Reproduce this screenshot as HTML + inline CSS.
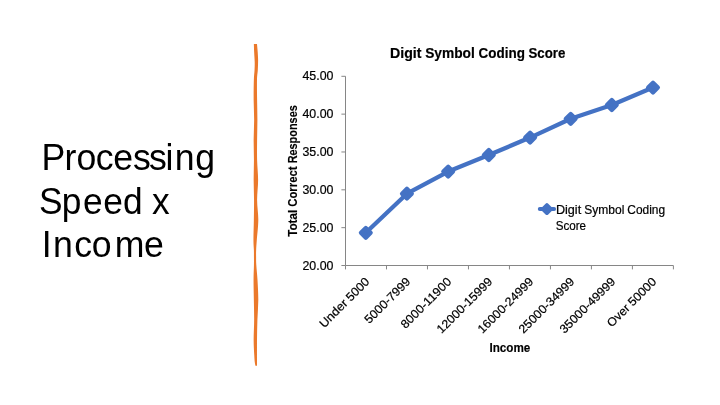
<!DOCTYPE html>
<html lang="en"><head><meta charset="utf-8"><title>Processing Speed x Income</title>
<style>
html,body{margin:0;padding:0;background:#fff;}
body{width:720px;height:405px;overflow:hidden;}
svg{display:block;}
text{font-family:"Liberation Sans",sans-serif;fill:#000;}
.t{font-size:36.2px;}
.s{font-size:12px;}
.b{font-weight:bold;}
.yl{font-size:12.3px;}
.s{stroke:#000;stroke-width:0.2px;}
.b{stroke:none;}
.ct{font-size:14.8px;font-weight:bold;stroke:#000;stroke-width:0.2px;}
.sb{font-size:12.7px;font-weight:bold;stroke:#000;stroke-width:0.15px;}
</style></head><body>
<svg width="720" height="405" viewBox="0 0 720 405">
<rect width="720" height="405" fill="#fff"/>

<text class="t" transform="scale(0.9850,1)" x="42.12 65.41 77.80 97.31 114.94 135.06 151.15 168.02 177.47 198.11" y="170">Processing</text>
<text class="t" transform="scale(0.9748,1)" x="40.10 63.33 85.16 105.99 126.16 146.29 155.84" y="213.75">Speed x</text>
<text class="t" transform="scale(0.9850,1)" x="42.48 53.82 75.28 93.23 116.44 146.21" y="257.5">Income</text>
<path d="M253.85,44.00 C253.90,45.33 254.01,49.00 254.15,52.00 C254.29,55.00 254.63,59.00 254.70,62.00 C254.77,65.00 254.69,67.00 254.55,70.00 C254.41,73.00 254.00,75.00 253.85,80.00 C253.70,85.00 253.60,93.33 253.65,100.00 C253.70,106.67 254.15,113.33 254.15,120.00 C254.15,126.67 253.68,133.33 253.65,140.00 C253.62,146.67 253.95,153.33 253.95,160.00 C253.95,166.67 253.63,173.33 253.65,180.00 C253.67,186.67 254.02,193.33 254.05,200.00 C254.08,206.67 253.95,213.33 253.85,220.00 C253.75,226.67 253.44,235.00 253.45,240.00 C253.46,245.00 253.82,247.17 253.90,250.00 C253.98,252.83 253.94,254.50 253.95,257.00 C253.96,259.50 254.02,261.17 253.95,265.00 C253.88,268.83 253.57,274.17 253.55,280.00 C253.53,285.83 253.75,293.33 253.85,300.00 C253.95,306.67 254.18,313.33 254.15,320.00 C254.12,326.67 253.63,334.17 253.65,340.00 C253.67,345.83 254.07,351.33 254.25,355.00 C254.43,358.67 254.55,360.20 254.75,362.00 C254.95,363.80 255.33,365.17 255.45,365.80 L257.00,365.80 C257.00,364.83 257.00,364.30 257.00,360.00 C257.00,355.70 256.93,346.67 257.00,340.00 C257.07,333.33 257.18,326.67 257.40,320.00 C257.62,313.33 258.28,306.67 258.30,300.00 C258.32,293.33 257.83,285.83 257.50,280.00 C257.17,274.17 256.53,268.83 256.30,265.00 C256.07,261.17 256.12,259.50 256.10,257.00 C256.07,254.50 256.03,252.83 256.15,250.00 C256.27,247.17 256.44,245.00 256.80,240.00 C257.16,235.00 258.25,226.67 258.30,220.00 C258.35,213.33 257.13,206.67 257.10,200.00 C257.07,193.33 258.10,186.67 258.10,180.00 C258.10,173.33 257.27,166.67 257.10,160.00 C256.93,153.33 257.05,146.67 257.10,140.00 C257.15,133.33 257.40,126.67 257.40,120.00 C257.40,113.33 257.17,106.67 257.10,100.00 C257.03,93.33 256.88,85.00 257.00,80.00 C257.12,75.00 257.62,73.33 257.80,70.00 C257.98,66.67 258.12,63.00 258.10,60.00 C258.08,57.00 257.88,54.67 257.70,52.00 C257.52,49.33 257.12,45.33 257.00,44.00Z" fill="#EB792B"/>
<text class="ct"  transform="translate(390.00,57.80)"><tspan x="0.00" textLength="31.48" lengthAdjust="spacingAndGlyphs">Digit</tspan> <tspan x="35.15" textLength="49.68" lengthAdjust="spacingAndGlyphs">Symbol</tspan> <tspan x="88.50" textLength="46.35" lengthAdjust="spacingAndGlyphs">Coding</tspan> <tspan x="138.51" textLength="36.82" lengthAdjust="spacingAndGlyphs">Score</tspan></text>
<g stroke="#868686" stroke-width="1" fill="none">
<path d="M345.5,76.3 V265.5 M345.5,265.5 H673.4"/>
<path d="M341.4,76.30 H345.5"/>
<path d="M341.4,114.14 H345.5"/>
<path d="M341.4,151.98 H345.5"/>
<path d="M341.4,189.82 H345.5"/>
<path d="M341.4,227.66 H345.5"/>
<path d="M341.4,265.50 H345.5"/>
<path d="M345.50,265.5 V269.4"/>
<path d="M386.49,265.5 V269.4"/>
<path d="M427.48,265.5 V269.4"/>
<path d="M468.46,265.5 V269.4"/>
<path d="M509.45,265.5 V269.4"/>
<path d="M550.44,265.5 V269.4"/>
<path d="M591.42,265.5 V269.4"/>
<path d="M632.41,265.5 V269.4"/>
<path d="M673.40,265.5 V269.4"/>
</g>
<text class="s yl"  transform="translate(333.40,80.45)"><tspan x="-30.99" textLength="30.99" lengthAdjust="spacingAndGlyphs">45.00</tspan></text>
<text class="s yl"  transform="translate(333.40,118.29)"><tspan x="-30.99" textLength="30.99" lengthAdjust="spacingAndGlyphs">40.00</tspan></text>
<text class="s yl"  transform="translate(333.40,156.13)"><tspan x="-30.99" textLength="30.99" lengthAdjust="spacingAndGlyphs">35.00</tspan></text>
<text class="s yl"  transform="translate(333.40,193.97)"><tspan x="-30.99" textLength="30.99" lengthAdjust="spacingAndGlyphs">30.00</tspan></text>
<text class="s yl"  transform="translate(333.40,231.81)"><tspan x="-30.99" textLength="30.99" lengthAdjust="spacingAndGlyphs">25.00</tspan></text>
<text class="s yl"  transform="translate(333.40,269.65)"><tspan x="-30.99" textLength="30.99" lengthAdjust="spacingAndGlyphs">20.00</tspan></text>
<text class="sb"  transform="translate(296.80,236.79) rotate(-90)"><tspan x="0.00" textLength="26.96" lengthAdjust="spacingAndGlyphs">Total</tspan> <tspan x="29.97" textLength="40.45" lengthAdjust="spacingAndGlyphs">Correct</tspan> <tspan x="73.43" textLength="58.15" lengthAdjust="spacingAndGlyphs">Responses</tspan></text>
<text class="sb"  transform="translate(489.44,352.00)"><tspan x="0.00" textLength="40.93" lengthAdjust="spacingAndGlyphs">Income</tspan></text>
<text class="s"  transform="translate(370.19,282.40) rotate(-45)"><tspan x="-65.15" textLength="34.51" lengthAdjust="spacingAndGlyphs">Under</tspan> <tspan x="-27.56" textLength="27.56" lengthAdjust="spacingAndGlyphs">5000</tspan></text>
<text class="s"  transform="translate(411.18,282.40) rotate(-45)"><tspan x="-59.28" textLength="59.28" lengthAdjust="spacingAndGlyphs">5000-7999</tspan></text>
<text class="s"  transform="translate(452.17,282.40) rotate(-45)"><tspan x="-66.17" textLength="66.17" lengthAdjust="spacingAndGlyphs">8000-11900</tspan></text>
<text class="s"  transform="translate(493.16,282.40) rotate(-45)"><tspan x="-73.06" textLength="73.06" lengthAdjust="spacingAndGlyphs">12000-15999</tspan></text>
<text class="s"  transform="translate(534.14,282.40) rotate(-45)"><tspan x="-73.06" textLength="73.06" lengthAdjust="spacingAndGlyphs">16000-24999</tspan></text>
<text class="s"  transform="translate(575.13,282.40) rotate(-45)"><tspan x="-73.06" textLength="73.06" lengthAdjust="spacingAndGlyphs">25000-34999</tspan></text>
<text class="s"  transform="translate(616.12,282.40) rotate(-45)"><tspan x="-73.06" textLength="73.06" lengthAdjust="spacingAndGlyphs">35000-49999</tspan></text>
<text class="s"  transform="translate(657.11,282.40) rotate(-45)"><tspan x="-64.04" textLength="26.51" lengthAdjust="spacingAndGlyphs">Over</tspan> <tspan x="-34.45" textLength="34.45" lengthAdjust="spacingAndGlyphs">50000</tspan></text>
<polyline points="365.8,232.8 406.9,193.7 448.2,171.6 488.8,155.0 530.1,137.6 570.7,118.8 611.8,105.0 653.0,87.6" fill="none" stroke="#4472C4" stroke-width="4.3" stroke-linejoin="round" stroke-linecap="round"/>
<path d="M365.80,227.90 L370.70,232.80 L365.80,237.70 L360.90,232.80Z" fill="#4472C4" stroke="#4472C4" stroke-width="4.2" stroke-linejoin="round"/>
<path d="M406.90,188.80 L411.80,193.70 L406.90,198.60 L402.00,193.70Z" fill="#4472C4" stroke="#4472C4" stroke-width="4.2" stroke-linejoin="round"/>
<path d="M448.20,166.70 L453.10,171.60 L448.20,176.50 L443.30,171.60Z" fill="#4472C4" stroke="#4472C4" stroke-width="4.2" stroke-linejoin="round"/>
<path d="M488.80,150.10 L493.70,155.00 L488.80,159.90 L483.90,155.00Z" fill="#4472C4" stroke="#4472C4" stroke-width="4.2" stroke-linejoin="round"/>
<path d="M530.10,132.70 L535.00,137.60 L530.10,142.50 L525.20,137.60Z" fill="#4472C4" stroke="#4472C4" stroke-width="4.2" stroke-linejoin="round"/>
<path d="M570.70,113.90 L575.60,118.80 L570.70,123.70 L565.80,118.80Z" fill="#4472C4" stroke="#4472C4" stroke-width="4.2" stroke-linejoin="round"/>
<path d="M611.80,100.10 L616.70,105.00 L611.80,109.90 L606.90,105.00Z" fill="#4472C4" stroke="#4472C4" stroke-width="4.2" stroke-linejoin="round"/>
<path d="M653.00,82.70 L657.90,87.60 L653.00,92.50 L648.10,87.60Z" fill="#4472C4" stroke="#4472C4" stroke-width="4.2" stroke-linejoin="round"/>
<path d="M539.8,209.1 H554.1" stroke="#4472C4" stroke-width="4" stroke-linecap="round"/>
<path d="M546.90,205.05 L550.90,209.05 L546.90,213.05 L542.90,209.05Z" fill="#4472C4" stroke="#4472C4" stroke-width="3.8" stroke-linejoin="round"/>
<text class="s"  transform="translate(555.90,213.75)"><tspan x="0.00" textLength="25.28" lengthAdjust="spacingAndGlyphs">Digit</tspan> <tspan x="28.32" textLength="40.09" lengthAdjust="spacingAndGlyphs">Symbol</tspan> <tspan x="71.45" textLength="37.81" lengthAdjust="spacingAndGlyphs">Coding</tspan></text>
<text class="s"  transform="translate(555.70,229.70)"><tspan x="0.00" textLength="30.38" lengthAdjust="spacingAndGlyphs">Score</tspan></text>
</svg></body></html>
